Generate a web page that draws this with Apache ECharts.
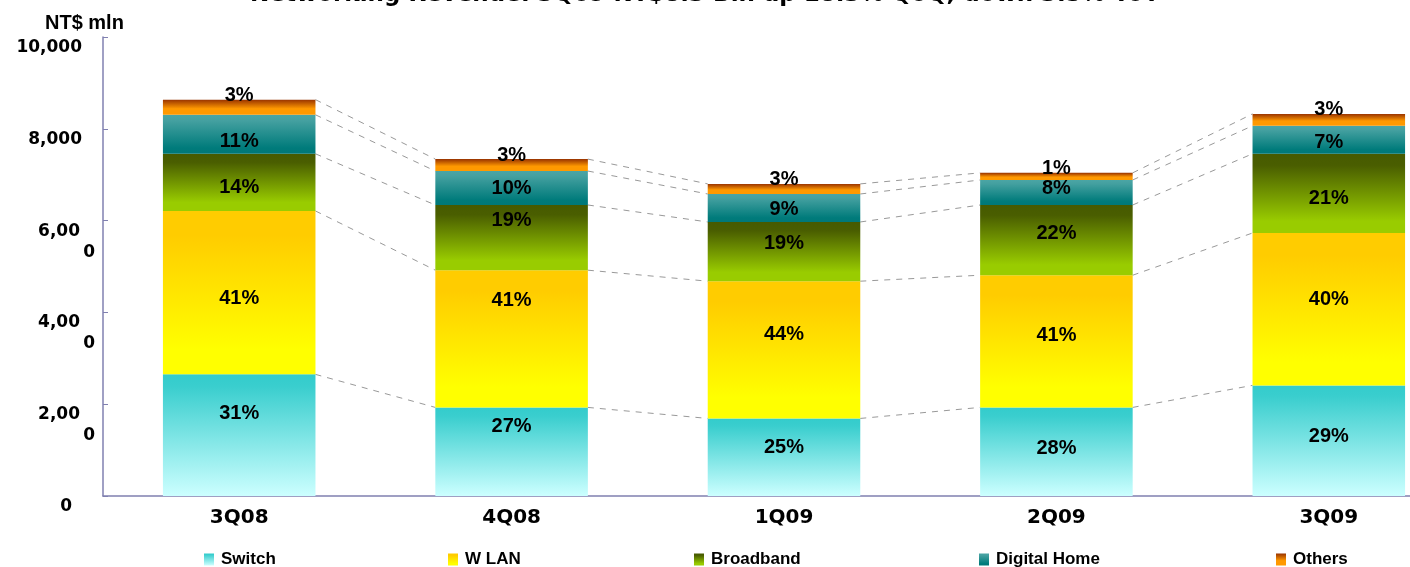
<!DOCTYPE html>
<html>

<head>
    <meta charset="utf-8">
    <title>ECharts</title>
    <script src="https://cdn.jsdelivr.net/npm/echarts@6/dist/echarts.min.js"></script>
</head>

<body style="margin:0;">
    <div id="main" style="width: 1410px;height: 567px;"></div>
    <script type="text/javascript">

        // 季度
        var quarters = ['3Q08', '4Q08', '1Q09', '2Q09', '3Q09'];

        // 各产品营收 (NT$ mln)
        var switchRev = [2650, 1930, 1690, 1930, 2410];
        var wlanRev = [3560, 2990, 2990, 2880, 3320];
        var broadbandRev = [1245, 1420, 1290, 1530, 1725];
        var digitalHomeRev = [850, 740, 610, 545, 610];
        var othersRev = [330, 260, 220, 155, 260];

        // 图上标注的百分比
        var switchPct = ['31%', '27%', '25%', '28%', '29%'];
        var wlanPct = ['41%', '41%', '44%', '41%', '40%'];
        var broadbandPct = ['14%', '19%', '19%', '22%', '21%'];
        var digitalHomePct = ['11%', '10%', '9%', '8%', '7%'];
        var othersPct = ['3%', '3%', '3%', '1%', '3%'];

        var seriesNames = ['Switch', 'W LAN', 'Broadband', 'Digital Home', 'Others'];

        // y轴刻度
        var yTicks = [0, 2000, 4000, 6000, 8000, 10000];

        // 标签的上下微调 (px)
        var labelNudge = [
            [-22, -25, -10, -3, -4],
            [6, -38, -15, -6, -10],
            [5, -17, -8, -7, 5],
            [7, 0, 2, -4, 3],
            [0, 0, 0, 0, 0]
        ];

        // 图例位置 (px)
        var legendLeft = [199, 443, 689, 974, 1271];

        var myChart = echarts.init(document.getElementById('main'));

        function grad(stops) {
            return new echarts.graphic.LinearGradient(0, 0, 0, 1, stops.map(function (s) {
                return { offset: s[0], color: s[1] };
            }));
        }

        var colors = [
            grad([[0, '#33CCCC'], [0.1, '#3ACECE'], [1, '#CCFFFF']]),
            grad([[0, '#FFCC00'], [0.15, '#FFCC00'], [0.85, '#FFFF00'], [1, '#FFFF00']]),
            grad([[0, '#465A00'], [0.15, '#4A5E00'], [0.85, '#99CC00'], [1, '#99CC00']]),
            grad([[0, '#4AA5A5'], [0.15, '#44A0A0'], [0.85, '#007B7B'], [1, '#007878']]),
            grad([[0, '#993300'], [0.6, '#FF9900'], [1, '#FF9900']])
        ];

        var values = [switchRev, wlanRev, broadbandRev, digitalHomeRev, othersRev];
        var pcts = [switchPct, wlanPct, broadbandPct, digitalHomePct, othersPct];

        var labelFont = {
            fontFamily: 'Liberation Sans, Arial, sans-serif',
            fontWeight: 'bold',
            fontSize: 20,
            color: '#000'
        };

        var series = values.map(function (vals, k) {
            return {
                name: seriesNames[k],
                type: 'bar',
                stack: 'total',
                barWidth: '56%',
                itemStyle: { color: colors[k] },
                label: Object.assign({
                    show: true,
                    position: k === 4 ? 'top' : 'inside',
                    distance: k === 4 ? -6 : 5,
                    formatter: function (p) { return pcts[k][p.dataIndex]; }
                }, labelFont),
                data: vals.map(function (v, i) {
                    return { value: v, label: { offset: [0, labelNudge[k][i]] } };
                }),
                z: 3
            };
        });

        // 虚线连接线: 每一层累计值
        var connectorData = [];
        for (var k = 0; k < values.length; k++) {
            for (var i = 0; i < quarters.length - 1; i++) {
                var c0 = 0, c1 = 0;
                for (var j = 0; j <= k; j++) {
                    c0 += values[j][i];
                    c1 += values[j][i + 1];
                }
                connectorData.push([i, c0, c1]);
            }
        }

        series.push({
            type: 'custom',
            name: 'links',
            silent: true,
            z: 1,
            data: connectorData,
            renderItem: function (params, api) {
                var x = api.value(0);
                var p0 = api.coord([x, api.value(1)]);
                var p1 = api.coord([x + 1, api.value(2)]);
                var half = api.size([1, 0])[0] * 0.28;
                return {
                    type: 'line',
                    shape: { x1: p0[0] + half, y1: p0[1], x2: p1[0] - half, y2: p1[1] },
                    style: { stroke: '#999999', lineWidth: 1, lineDash: [6, 6] }
                };
            }
        });

        // 每个图例单独放置
        var legends = seriesNames.map(function (name, k) {
            return {
                data: [name],
                left: legendLeft[k],
                top: 546,
                icon: 'rect',
                itemWidth: 10,
                itemHeight: 12,
                itemGap: 0,
                selectedMode: false,
                textStyle: {
                    fontFamily: 'Liberation Sans, Arial, sans-serif',
                    fontWeight: 'bold',
                    fontSize: 17,
                    color: '#000',
                    padding: [0, 0, 0, 2]
                }
            };
        });

        var yLabelStyle = {
            fontFamily: 'DejaVu Sans, Verdana, sans-serif',
            fontWeight: 'bold',
            fontSize: 17,
            lineHeight: 21,
            color: '#000',
            align: 'right'
        };

        var option = {
            animation: false,
            backgroundColor: '#ffffff',
            title: [
                {
                    text: 'Networking Revenue: 3Q09 NT$8.3 Bln up 18.3% QoQ, down 3.5% YoY',
                    left: 'center',
                    top: -21,
                    textStyle: {
                        fontFamily: 'DejaVu Sans, Verdana, sans-serif',
                        fontWeight: 'bold',
                        fontSize: 23,
                        color: '#000'
                    }
                },
                {
                    text: 'NT$ mln',
                    left: 40,
                    top: 8,
                    textStyle: {
                        fontFamily: 'Liberation Sans, Arial, sans-serif',
                        fontWeight: 'bold',
                        fontSize: 20,
                        color: '#000'
                    }
                }
            ],
            legend: legends,
            grid: {
                left: 103,
                width: 1362,
                top: 37,
                bottom: 71,
                outerBoundsMode: 'none'
            },
            xAxis: {
                type: 'category',
                data: quarters,
                axisLine: { lineStyle: { color: '#8080B0', width: 1.5 } },
                axisTick: { inside: true, length: 5, lineStyle: { color: '#8080B0' } },
                axisLabel: {
                    margin: 12,
                    fontFamily: 'DejaVu Sans, Verdana, sans-serif',
                    fontWeight: 'bold',
                    fontSize: 20,
                    color: '#000'
                }
            },
            yAxis: {
                type: 'value',
                min: yTicks[0],
                max: yTicks[yTicks.length - 1],
                interval: 2000,
                splitLine: { show: false },
                axisLine: { show: true, lineStyle: { color: '#8080B0', width: 1.5 } },
                axisTick: { show: true, inside: true, length: 5, lineStyle: { color: '#8080B0' } },
                axisLabel: {
                    margin: 8,
                    verticalAlign: 'top',
                    formatter: function (v) {
                        if (v === 0) return '{z|0}';
                        var s = v.toLocaleString('en-US');
                        if (v >= 8000) return '{n|' + s + '}';
                        return '{m|' + s.slice(0, -1) + '}\n{w|' + s.slice(-1) + '}';
                    },
                    rich: {
                        n: Object.assign({ padding: [0, 13, 0, 0] }, yLabelStyle),
                        m: Object.assign({ padding: [0, 15, 0, 0] }, yLabelStyle),
                        w: Object.assign({ padding: [0, 0, 0, 0] }, yLabelStyle),
                        z: Object.assign({ padding: [0, 23, 0, 0] }, yLabelStyle)
                    }
                }
            },
            series: series
        };

        myChart.setOption(option);

        window.onresize = myChart.resize;
    </script>
</body>

</html>
